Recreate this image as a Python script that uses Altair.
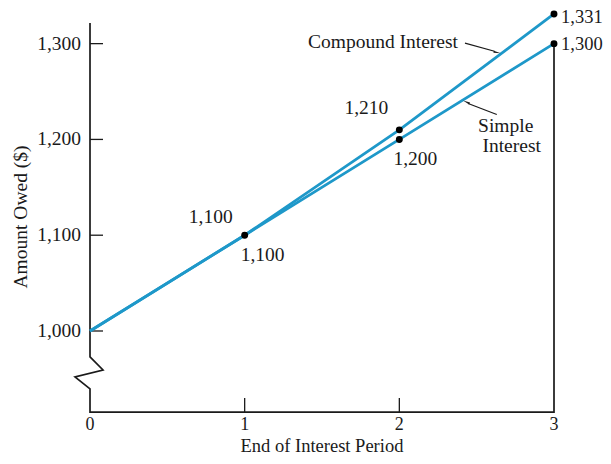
import altair as alt
import pandas as pd

# ---- data ----
periods = [0, 1, 2, 3]
compound = [1000, 1100, 1210, 1331]
simple = [1000, 1100, 1200, 1300]
y_tick_values = [1000, 1100, 1200, 1300]
y_tick_labels = ["1,000", "1,100", "1,200", "1,300"]
x_tick_values = [0, 1, 2, 3]
x_tick_labels = ["0", "1", "2", "3"]
inner_x_ticks = [1, 2]

BLUE = "#1E98C9"
INK = "#1a1a1a"
FONT = "Liberation Serif"
FS = 19.5

W, H = 595, 448
X0, X1 = -0.5302, 3.3168
Y0, Y1 = 869.5, 1337.2
xs = alt.Scale(domain=[X0, X1], nice=False, zero=False)
ys = alt.Scale(domain=[Y0, Y1], nice=False, zero=False)
PX_X = W / (X1 - X0)
PX_Y = H / (Y1 - Y0)

AX_BOTTOM = 915.4
AX_TOP = 1321.5

def X(f="x"):
    return alt.X(f"{f}:Q", scale=xs, axis=None)

def Y(f="y"):
    return alt.Y(f"{f}:Q", scale=ys, axis=None)

# lines
rows = []
for p, c, s in zip(periods, compound, simple):
    rows.append({"x": p, "y": c, "series": "Compound Interest"})
    rows.append({"x": p, "y": s, "series": "Simple Interest"})
lines_df = pd.DataFrame(rows)

lines = alt.Chart(lines_df).mark_line(color=BLUE, strokeWidth=2.8).encode(
    x=X(), y=Y(), detail="series:N", order="x:Q"
)

pts_df = lines_df[lines_df.x > 0].drop_duplicates(subset=["x", "y"])
points = alt.Chart(pts_df).mark_point(filled=True, color="black", size=48, opacity=1).encode(
    x=X(), y=Y()
)

# axis frame with break
frame_x = [0, 0, 13 / PX_X, -15 / PX_X, 0, 0, 3, 3]
frame_y = [AX_TOP, 972.9, 959.3, 952.0, 939.5, AX_BOTTOM, AX_BOTTOM, simple[-1]]
frame_df = pd.DataFrame({"x": frame_x, "y": frame_y, "o": list(range(len(frame_x)))})
frame = alt.Chart(frame_df).mark_line(color=INK, strokeWidth=1.7).encode(
    x=X(), y=Y(), order="o:Q"
)

ytick_df = pd.DataFrame({"y": y_tick_values, "x": 0, "x2": 13 / PX_X, "label": y_tick_labels})
yticks = alt.Chart(ytick_df).mark_rule(color=INK, strokeWidth=1.3).encode(
    x=X(), x2="x2:Q", y=Y()
)
ylabels = alt.Chart(ytick_df).mark_text(
    font=FONT, fontSize=FS, align="right", baseline="middle", dx=-9, color=INK
).encode(x=X(), y=Y(), text="label:N")

xtick_df = pd.DataFrame({"x": inner_x_ticks, "y": AX_BOTTOM, "y2": AX_BOTTOM + 14 / PX_Y})
xticks = alt.Chart(xtick_df).mark_rule(color=INK, strokeWidth=1.3).encode(
    x=X(), y=Y(), y2="y2:Q"
)
xlab_df = pd.DataFrame({"x": x_tick_values, "y": AX_BOTTOM, "label": x_tick_labels})
xlabels = alt.Chart(xlab_df).mark_text(
    font=FONT, fontSize=18, align="center", baseline="middle", dy=12.5, color=INK
).encode(x=X(), y=Y(), text="label:N")

# point value labels
def vlabel(px, py, text, align, dx, dy, fs=FS):
    df = pd.DataFrame({"x": [px], "y": [py], "t": [text]})
    return alt.Chart(df).mark_text(
        font=FONT, fontSize=fs, align=align, baseline="middle", dx=dx, dy=dy, color=INK
    ).encode(x=X(), y=Y(), text="t:N")

vlabels = [
    vlabel(periods[1], compound[1], "1,100", "right", -12, -18),
    vlabel(periods[1], simple[1], "1,100", "left", -4, 20),
    vlabel(periods[2], compound[2], "1,210", "right", -11, -22),
    vlabel(periods[2], simple[2], "1,200", "center", 16, 20),
    vlabel(periods[3], compound[3], "1,331", "left", 7, 3, 18.5),
    vlabel(periods[3], simple[3], "1,300", "left", 7, 0, 18.5),
]

# annotations
def ann(px, py, text, align, dx=0, dy=0):
    df = pd.DataFrame({"x": [px], "y": [py], "t": [text]})
    return alt.Chart(df).mark_text(
        font=FONT, fontSize=FS, align=align, baseline="alphabetic", dx=dx, dy=dy, color=INK
    ).encode(x=X(), y=Y(), text="t:N")

comp_text = ann(2.4245, 1300.6, "Compound Interest", "right", -7, 5)
simp_text1 = ann(2.72, 1226.5, "Simple", "center", -5, 18)
simp_text2 = ann(2.72, 1226.5, "Interest", "center", 1, 38)

arrows_df = pd.DataFrame({
    "x": [2.4245, 2.63], "y": [1300.6, 1226.0],
    "x2": [2.615, 2.445], "y2": [1292.0, 1237.5],
})
arrow_lines = alt.Chart(arrows_df).mark_rule(color=INK, strokeWidth=1.2).encode(
    x=X(), y=Y(), x2="x2:Q", y2="y2:Q"
)
head1 = alt.Chart(pd.DataFrame({"x": [2.625], "y": [1291.0]})).mark_point(
    shape="wedge", filled=True, color=INK, size=70, angle=101, opacity=1
).encode(x=X(), y=Y())
head2 = alt.Chart(pd.DataFrame({"x": [2.44], "y": [1238.5]})).mark_point(
    shape="wedge", filled=True, color=INK, size=70, angle=294, opacity=1
).encode(x=X(), y=Y())

ytitle = alt.Chart(pd.DataFrame({"t": ["Amount  Owed  ($)"]})).mark_text(
    font=FONT, fontSize=FS, angle=270, align="center", baseline="middle", color=INK
).encode(x=alt.value(13), y=alt.value(209), text="t:N")
xtitle = alt.Chart(pd.DataFrame({"t": ["End of Interest Period"]})).mark_text(
    font=FONT, fontSize=18.5, align="center", baseline="alphabetic", color=INK
).encode(x=alt.value(314), y=alt.value(444), text="t:N")

chart = alt.layer(
    frame, yticks, xticks, lines, points, ylabels, xlabels, *vlabels,
    comp_text, simp_text1, simp_text2, arrow_lines, head1, head2, ytitle, xtitle
).properties(
    width=W, height=H, padding=0, autosize=alt.AutoSizeParams(type="none"),
    background="white"
).configure_view(stroke=None)

chart.save("out.html", embed_options={"renderer": "svg", "actions": False})
